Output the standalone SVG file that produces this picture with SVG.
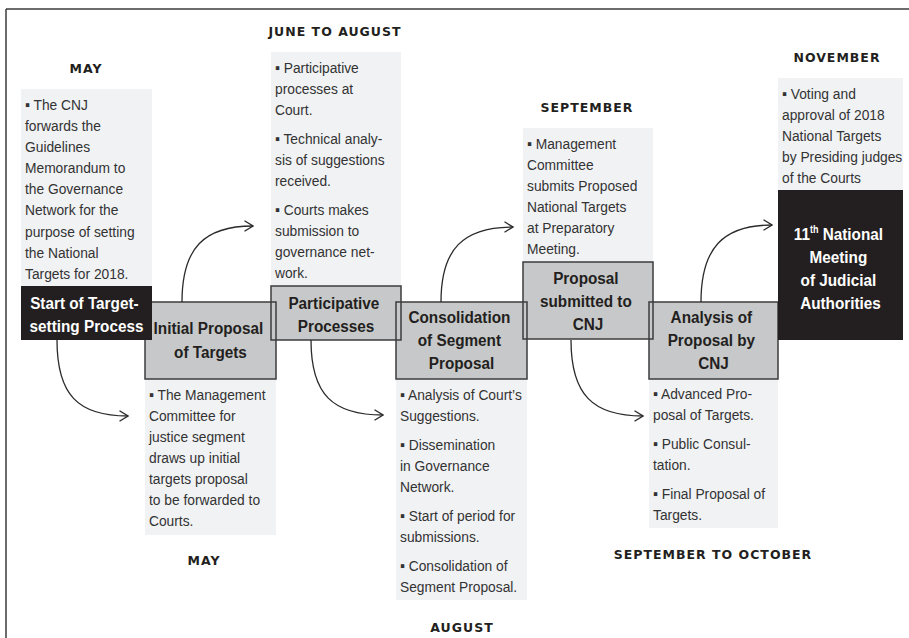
<svg xmlns="http://www.w3.org/2000/svg" width="909" height="638" viewBox="0 0 909 638">
  <defs>
    <marker id="chev" viewBox="0 0 10 12" refX="9.5" refY="6" markerWidth="10" markerHeight="12" markerUnits="userSpaceOnUse" orient="auto">
      <path d="M1,0.8 L9.5,6 L1,11.2" fill="none" stroke="#2a2a2a" stroke-width="1.3"/>
    </marker>
    <style>
      .frame { stroke: #3c3c3c; stroke-width: 1.5; fill: none; }
      .note { fill: #f1f2f4; }
      .stage { fill: #c7c8c9; }
      .stage-edge { fill: none; stroke: #3c3c3c; stroke-width: 1.5; }
      .dark { fill: #231f20; }
      .month { font-family: "DejaVu Sans", "Liberation Sans", sans-serif; font-weight: bold; font-size: 12.5px; letter-spacing: 1px; fill: #231f20; text-anchor: middle; }
      .body { font-family: "Liberation Sans", Arial, sans-serif; font-size: 15.5px; fill: #333333; }
      .head { font-family: "Liberation Sans", Arial, sans-serif; font-weight: bold; font-size: 17px; fill: #231f20; text-anchor: middle; }
      .head-inv { font-family: "Liberation Sans", Arial, sans-serif; font-weight: bold; font-size: 17px; fill: #ffffff; text-anchor: middle; }
      .link { fill: none; stroke: #2a2a2a; stroke-width: 1.3; marker-end: url(#chev); }
    </style>
  </defs>

  <rect width="909" height="638" fill="#ffffff"/>
  <!-- page frame: top and left rules -->
  <path class="frame" d="M6,9 H909 M6,9 V638"/>

  <!-- month labels -->
  <g id="months">
    <text class="month" x="86" y="73">MAY</text>
    <text class="month" x="335" y="36">JUNE TO AUGUST</text>
    <text class="month" x="587" y="112">SEPTEMBER</text>
    <text class="month" x="837" y="62">NOVEMBER</text>
    <text class="month" x="204" y="565">MAY</text>
    <text class="month" x="462" y="632">AUGUST</text>
    <text class="month" x="713" y="559">SEPTEMBER TO OCTOBER</text>
  </g>

  <!-- note panels (body copy is set slightly condensed) -->
  <g id="note-start">
    <rect class="note" x="21" y="89" width="131" height="197"/>
    <text class="body" transform="translate(25,0) scale(0.89,1)">
      <tspan x="0" y="110">▪ The CNJ</tspan>
      <tspan x="0" y="131">forwards the</tspan>
      <tspan x="0" y="152">Guidelines</tspan>
      <tspan x="0" y="173">Memorandum to</tspan>
      <tspan x="0" y="194">the Governance</tspan>
      <tspan x="0" y="215">Network for the</tspan>
      <tspan x="0" y="237">purpose of setting</tspan>
      <tspan x="0" y="258">the National</tspan>
      <tspan x="0" y="279">Targets for 2018.</tspan>
    </text>
  </g>

  <g id="note-initial">
    <rect class="note" x="145" y="379" width="131" height="156"/>
    <text class="body" transform="translate(149,0) scale(0.89,1)">
      <tspan x="0" y="400">▪ The Management</tspan>
      <tspan x="0" y="421">Committee for</tspan>
      <tspan x="0" y="442">justice segment</tspan>
      <tspan x="0" y="463">draws up initial</tspan>
      <tspan x="0" y="484">targets proposal</tspan>
      <tspan x="0" y="505">to be forwarded to</tspan>
      <tspan x="0" y="526">Courts.</tspan>
    </text>
  </g>

  <g id="note-participative">
    <rect class="note" x="271" y="52" width="130" height="234"/>
    <text class="body" transform="translate(275,0) scale(0.89,1)">
      <tspan x="0" y="73">▪ Participative</tspan>
      <tspan x="0" y="94">processes at</tspan>
      <tspan x="0" y="115">Court.</tspan>
      <tspan x="0" y="144">▪ Technical analy-</tspan>
      <tspan x="0" y="165">sis of suggestions</tspan>
      <tspan x="0" y="186">received.</tspan>
      <tspan x="0" y="215">▪ Courts makes</tspan>
      <tspan x="0" y="236">submission to</tspan>
      <tspan x="0" y="257">governance net-</tspan>
      <tspan x="0" y="278">work.</tspan>
    </text>
  </g>

  <g id="note-consolidation">
    <rect class="note" x="396" y="379" width="131" height="221"/>
    <text class="body" transform="translate(400,0) scale(0.89,1)">
      <tspan x="0" y="400">▪  Analysis of Court’s</tspan>
      <tspan x="0" y="421">Suggestions.</tspan>
      <tspan x="0" y="450">▪ Dissemination</tspan>
      <tspan x="0" y="471">in Governance</tspan>
      <tspan x="0" y="492">Network.</tspan>
      <tspan x="0" y="521">▪ Start of period for</tspan>
      <tspan x="0" y="542">submissions.</tspan>
      <tspan x="0" y="571">▪ Consolidation of</tspan>
      <tspan x="0" y="592">Segment Proposal.</tspan>
    </text>
  </g>

  <g id="note-submitted">
    <rect class="note" x="523" y="128" width="130" height="134"/>
    <text class="body" transform="translate(527,0) scale(0.89,1)">
      <tspan x="0" y="149">▪ Management</tspan>
      <tspan x="0" y="170">Committee</tspan>
      <tspan x="0" y="191">submits Proposed</tspan>
      <tspan x="0" y="212">National Targets</tspan>
      <tspan x="0" y="233">at Preparatory</tspan>
      <tspan x="0" y="254">Meeting.</tspan>
    </text>
  </g>

  <g id="note-analysis">
    <rect class="note" x="649" y="379" width="129" height="149"/>
    <text class="body" transform="translate(653,0) scale(0.89,1)">
      <tspan x="0" y="399">▪  Advanced Pro-</tspan>
      <tspan x="0" y="420">posal of Targets.</tspan>
      <tspan x="0" y="449">▪ Public Consul-</tspan>
      <tspan x="0" y="470">tation.</tspan>
      <tspan x="0" y="499">▪ Final Proposal of</tspan>
      <tspan x="0" y="520">Targets.</tspan>
    </text>
  </g>

  <g id="note-meeting">
    <rect class="note" x="778" y="78" width="125" height="112"/>
    <text class="body" transform="translate(782,0) scale(0.89,1)">
      <tspan x="0" y="99">▪ Voting and</tspan>
      <tspan x="0" y="120">approval of 2018</tspan>
      <tspan x="0" y="141">National Targets</tspan>
      <tspan x="0" y="162">by Presiding judges</tspan>
      <tspan x="0" y="183">of the Courts</tspan>
    </text>
  </g>

  <!-- stage boxes: fills first, then edges so every outline stays visible -->
  <g id="stage-fills">
    <rect class="stage" x="145" y="302" width="131" height="77"/>
    <rect class="stage" x="271" y="286" width="130" height="54"/>
    <rect class="stage" x="396" y="302" width="131" height="77"/>
    <rect class="stage" x="523" y="262" width="130" height="77"/>
    <rect class="stage" x="649" y="302" width="129" height="77"/>
  </g>

  <g id="initial-proposal">
    <rect class="stage-edge" x="145" y="302" width="131" height="77"/>
    <text class="head" transform="translate(210.5,0) scale(0.9,1)">
      <tspan x="0" y="334">Initial Proposal</tspan>
      <tspan x="0" y="358">of Targets</tspan>
    </text>
  </g>

  <g id="participative-processes">
    <rect class="stage-edge" x="271" y="286" width="130" height="54"/>
    <text class="head" transform="translate(336,0) scale(0.9,1)">
      <tspan x="0" y="309">Participative</tspan>
      <tspan x="0" y="332">Processes</tspan>
    </text>
  </g>

  <g id="consolidation">
    <rect class="stage-edge" x="396" y="302" width="131" height="77"/>
    <text class="head" transform="translate(461.5,0) scale(0.9,1)">
      <tspan x="0" y="323">Consolidation</tspan>
      <tspan x="0" y="346">of Segment</tspan>
      <tspan x="0" y="369">Proposal</tspan>
    </text>
  </g>

  <g id="proposal-submitted">
    <rect class="stage-edge" x="523" y="262" width="130" height="77"/>
    <text class="head" transform="translate(588,0) scale(0.9,1)">
      <tspan x="0" y="284">Proposal</tspan>
      <tspan x="0" y="307">submitted to</tspan>
      <tspan x="0" y="330">CNJ</tspan>
    </text>
  </g>

  <g id="analysis">
    <rect class="stage-edge" x="649" y="302" width="129" height="77"/>
    <text class="head" transform="translate(713.5,0) scale(0.9,1)">
      <tspan x="0" y="323">Analysis of</tspan>
      <tspan x="0" y="346">Proposal by</tspan>
      <tspan x="0" y="369">CNJ</tspan>
    </text>
  </g>

  <g id="start">
    <rect class="dark" x="21" y="286" width="131" height="54"/>
    <text class="head-inv" transform="translate(86.5,0) scale(0.9,1)">
      <tspan x="0" y="309">Start of Target-</tspan>
      <tspan x="0" y="332">setting Process</tspan>
    </text>
  </g>

  <g id="national-meeting">
    <rect class="dark" x="778" y="190" width="125" height="150"/>
    <text class="head-inv" transform="translate(840.5,0) scale(0.9,1)">
      <tspan x="0" y="240">11<tspan font-size="10" dy="-7">th</tspan><tspan dy="7"> National</tspan></tspan>
      <tspan x="0" y="263">Meeting</tspan>
      <tspan x="0" y="286">of Judicial</tspan>
      <tspan x="0" y="309">Authorities</tspan>
    </text>
  </g>

  <!-- connectors -->
  <g id="connectors">
    <path class="link" d="M57,340 C57,395 78,416 128,416"/>
    <path class="link" d="M182,302 C182,248 204,226 253,226"/>
    <path class="link" d="M311,340 C311,395 333,415 383,415"/>
    <path class="link" d="M441,302 C441,249 463,227 513,227"/>
    <path class="link" d="M571,340 C571,395 593,416 643,416"/>
    <path class="link" d="M701,302 C701,248 723,225 772,225"/>
  </g>
</svg>
